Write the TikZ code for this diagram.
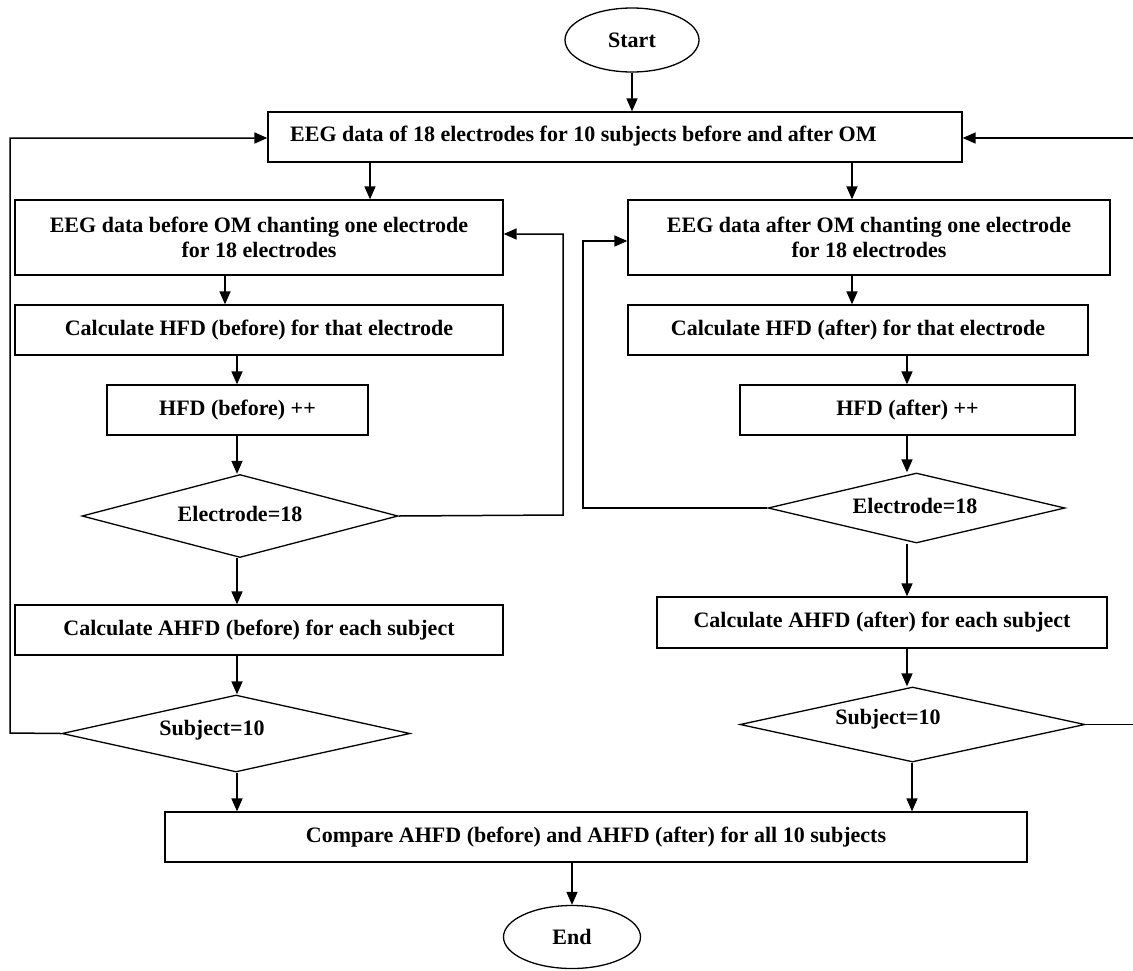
\documentclass[tikz,border=0pt]{standalone}
\usepackage{fontspec}
\setmainfont{Liberation Serif}
\usetikzlibrary{shapes.geometric,arrows.meta}
\begin{document}
\begin{tikzpicture}[x=1pt,y=-1pt,
  every node/.style={font=\fontsize{22}{25}\selectfont\bfseries},
  box/.style={draw,line width=1.3pt,rectangle,inner sep=0pt,align=center},
  oval/.style={draw,line width=1.3pt,ellipse,inner sep=0pt},
  dia/.style={draw,line width=1.3pt,diamond,inner sep=0pt,aspect=4},
  txt/.style={inner sep=0pt},
  con/.style={line width=1.5pt,-{Triangle[length=13pt,width=11pt]}},
  ln/.style={line width=1.5pt}]
\useasboundingbox (0,0) rectangle (1133,970);
% start / end
\node[oval,minimum width=134pt,minimum height=64pt] (start) at (632,40) {Start};
\node[oval,minimum width=137pt,minimum height=63pt] (end) at (572,937) {End};
% top box
\node[box,minimum width=694pt,minimum height=50pt] (top) at (615,137) {};
\node[txt,anchor=west] (toptxt) at (290,136) {EEG data of 18 electrodes for 10 subjects before and after OM};
% left column
\node[box,minimum width=488pt,minimum height=75pt] (l1) at (259,237.5) {EEG data before OM chanting one electrode\\for 18 electrodes};
\node[box,minimum width=488pt,minimum height=50pt] (l2) at (259,330) {Calculate HFD (before) for that electrode};
\node[box,minimum width=261pt,minimum height=50pt] (l3) at (237.5,410) {HFD (before) ++};
\node[dia,minimum width=316pt,minimum height=83pt] (l4) at (240,516) {};
\node[txt] (l4t) at (240,514) {Electrode=18};
\node[box,minimum width=488pt,minimum height=50pt] (l5) at (259,630) {Calculate AHFD (before) for each subject};
\node[dia,minimum width=348pt,minimum height=77pt] (l6) at (236,733.5) {};
\node[txt] (l6t) at (212,730) {Subject=10};
% right column
\node[box,minimum width=482pt,minimum height=75pt] (r1) at (869,237.5) {EEG data after OM chanting one electrode\\for 18 electrodes};
\node[box,minimum width=460pt,minimum height=50pt] (r2) at (858,330) {Calculate HFD (after) for that electrode};
\node[box,minimum width=335pt,minimum height=50pt] (r3) at (907.5,410) {HFD (after) ++};
\node[dia,minimum width=297pt,minimum height=70pt] (r4) at (916.5,508) {};
\node[txt] (r4t) at (915,506) {Electrode=18};
\node[box,minimum width=450pt,minimum height=51pt] (r5) at (882,622.5) {Calculate AHFD (after) for each subject};
\node[dia,minimum width=345pt,minimum height=75pt] (r6) at (912.5,724.5) {};
\node[txt] (r6t) at (888,719) {Subject=10};
% compare
\node[box,minimum width=862pt,minimum height=50pt] (cmp) at (596,837) {Compare AHFD (before) and AHFD (after) for all 10 subjects};
% coordinates for loops
\coordinate (lA) at (563,515);
\coordinate (lB) at (563,234);
\coordinate (lC) at (10,733);
\coordinate (lD) at (10,138);
\coordinate (rA) at (583,508);
\coordinate (rB) at (583,241);
\coordinate (rC) at (1133.5,724.5);
\coordinate (rD) at (1133.5,138);
% connectors
\draw[con] (start.south) -- (top.north -| start.south);
\draw[con] (top.south -| 370,0) -- (l1.north -| 370,0);
\draw[con] (top.south -| 852,0) -- (r1.north -| 852,0);
\draw[con] (l1.south -| 225,0) -- (l2.north -| 225,0);
\draw[con] (l2.south -| 237,0) -- (l3.north -| 237,0);
\draw[con] (l3.south -| 237,0) -- (l4.north -| 237,0);
\draw[con] (l4.south -| 237,0) -- (l5.north -| 237,0);
\draw[con] (l5.south -| 237,0) -- (l6.north -| 237,0);
\draw[con] (l6.south -| 237,0) -- (cmp.north -| 237,0);
\draw[con] (r1.south -| 852,0) -- (r2.north -| 852,0);
\draw[con] (r2.south -| 907,0) -- (r3.north -| 907,0);
\draw[con] (r3.south -| 907,0) -- (r4.north -| 907,0);
\draw[con] (r4.south -| 907,0) -- (r5.north -| 907,0);
\draw[con] (r5.south -| 907,0) -- (r6.north -| 907,0);
\draw[con] (r6.south -| 912,0) -- (cmp.north -| 912,0);
\draw[con] (cmp.south -| 572,0) -- (end.north);
% loops
\draw[con] (l4.east) -- (lA) -- (lB) -- (l1.east |- lB);
\draw[con] (l6.west) -- (lC) -- (lD) -- (top.west |- lD);
\draw[con] (r4.west) -- (rA) -- (rB) -- (r1.west |- rB);
\draw[con] (r6.east) -- (rC) -- (rD) -- (top.east |- rD);
\end{tikzpicture}
\end{document}
